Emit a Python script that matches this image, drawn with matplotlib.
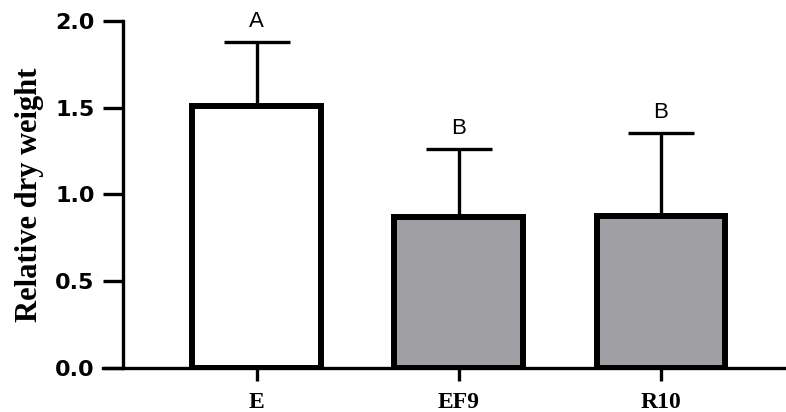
import matplotlib
matplotlib.use("Agg")
import matplotlib.pyplot as plt

groups = ["E", "EF9", "R10"]
means = [1.51, 0.87, 0.875]
errors = [0.37, 0.39, 0.48]
letters = ["A", "B", "B"]
fills = ["white", "#a09fa4", "#a09fa4"]

fig = plt.figure(figsize=(7.86, 4.12), dpi=100)
ax = fig.add_axes([103 / 786, 44 / 412, 683 / 786, (368 - 20.7) / 412])

x = list(range(len(groups)))
ax.bar(x, means, width=0.635, color=fills, edgecolor="black", linewidth=4.3, zorder=2)
ax.errorbar(x, means, yerr=[[0] * len(x), errors], fmt="none", ecolor="black",
            elinewidth=2.4, capsize=23.5, capthick=2.4, zorder=1)

for xi, m, e, lab in zip(x, means, errors, letters):
    ax.annotate(lab, (xi, m + e), xytext=(0, 7), textcoords="offset points",
                ha="center", va="bottom", fontsize=16, family="Liberation Sans")

ax.set_xlim(-0.76, 2.62)
ax.set_ylim(0, 2.0)
ax.set_yticks([0.0, 0.5, 1.0, 1.5, 2.0])
ax.set_yticklabels(["0.0", "0.5", "1.0", "1.5", "2.0"])
ax.set_xticks(x)
ax.set_xticklabels(groups)

for s in ["top", "right"]:
    ax.spines[s].set_visible(False)
ax.spines["left"].set_position(("data", -0.76 + 20 / 202))
ax.spines["left"].set_linewidth(2.4)
ax.spines["bottom"].set_linewidth(2.4)

ax.tick_params(axis="y", length=14.5, width=2.4, pad=6)
ax.tick_params(axis="x", length=9.5, width=2.4, pad=8)
for t in ax.get_yticklabels():
    t.set_fontfamily("DejaVu Sans")
    t.set_fontweight("heavy")
    t.set_fontsize(16)
for t in ax.get_xticklabels():
    t.set_fontfamily("Liberation Serif")
    t.set_fontweight("bold")
    t.set_fontsize(17)

ax.set_ylabel("Relative dry weight", fontsize=22, family="Liberation Serif", fontweight="bold")
ax.yaxis.set_label_coords(-0.086, 0.5)

fig.savefig("out.png", dpi=100)
